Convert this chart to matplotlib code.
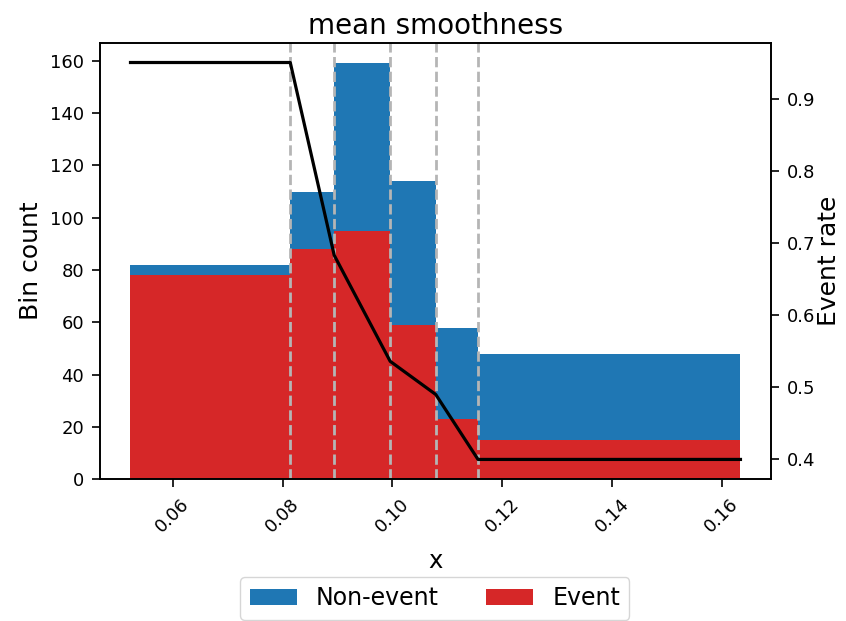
import matplotlib
matplotlib.use("Agg")
import matplotlib.pyplot as plt
import numpy as np

# Data
edges = [0.0523, 0.0814, 0.0894, 0.0996, 0.1079, 0.1156, 0.1634]
event = [78, 88, 95, 59, 23, 15]
non_event = [4, 22, 64, 55, 35, 33]
rate_x = [0.0523, 0.0814, 0.0894, 0.0996, 0.1079, 0.1156, 0.1634]
rate_y = [0.950, 0.950, 0.683, 0.536, 0.490, 0.400, 0.400]
title = "mean smoothness"

fig = plt.figure(figsize=(8.46, 6.21), dpi=100)
ax = fig.add_axes([0.1182, 0.2282, 0.7931, 0.7031])

lefts = np.array(edges[:-1])
widths = np.diff(edges)
b_non = ax.bar(lefts, non_event, width=widths, bottom=event, align="edge",
               color="tab:blue", label="Non-event")
b_ev = ax.bar(lefts, event, width=widths, align="edge",
              color="tab:red", label="Event")

for s in edges[1:-1]:
    ax.axvline(s, color="#b5b5b5", linestyle="--", linewidth=2)

ax2 = ax.twinx()
ax2.plot(rate_x, rate_y, color="black", linewidth=2.3)

for a in (ax, ax2):
    for sp in a.spines.values():
        sp.set_linewidth(1.2)

ax.set_title(title, fontsize=20)
ax.set_xlabel("x", fontsize=17.5, labelpad=9)
ax.set_ylabel("Bin count", fontsize=18, labelpad=5)
ax2.set_ylabel("Event rate", fontsize=18, labelpad=1)
ax.tick_params(axis="both", labelsize=13, width=1.2, length=5.5, pad=6)
ax2.tick_params(axis="y", labelsize=13, width=1.2, length=5.5, pad=6)
for lbl in ax.get_xticklabels():
    lbl.set_rotation(45)

fig.legend([b_non, b_ev], ["Non-event", "Event"], loc="upper center",
           bbox_to_anchor=(0.514, 0.071), ncol=2, fontsize=17,
           borderaxespad=0)

fig.savefig("out.png", dpi=100)
